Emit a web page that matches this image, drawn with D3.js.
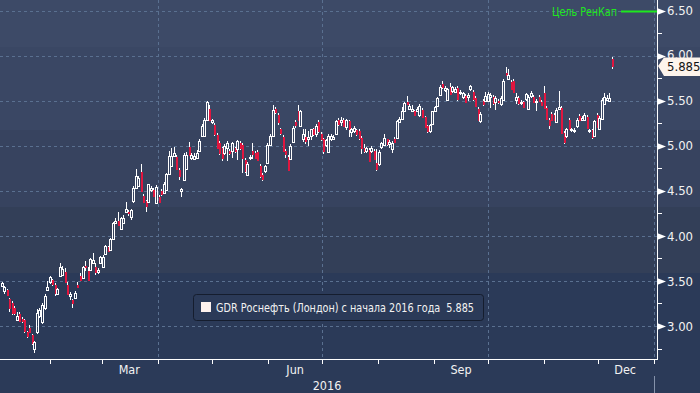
<!DOCTYPE html>
<html><head><meta charset="utf-8">
<script src="https://cdn.jsdelivr.net/npm/d3@7/dist/d3.min.js"></script>
<style>
html,body{margin:0;padding:0;background:#2b3a58;overflow:hidden}
svg{display:block}
text{font-family:"DejaVu Sans Condensed","Liberation Sans Narrow","DejaVu Sans",sans-serif}
</style>
</head><body>
<svg id="c" width="700" height="393"></svg>
<script>
// ---------- DATA ----------
const seriesName = "GDR Роснефть (Лондон) с начала 2016 года";
const lastPrice = 5.885;
const targetLabel = "Цель РенКап";
const targetValue = 6.5;
const yTicks = [3.0, 3.5, 4.0, 4.5, 5.0, 5.5, 6.0, 6.5];
const yMinorTicks = [2.75, 3.25, 3.75, 4.25, 4.75, 5.25, 5.75, 6.25];
const monthLabels = ["Mar", "Jun", "Sep", "Dec"];
const monthLabelIndex = [2, 5, 8, 11];
const yearLabel = "2016";

const opens = [
3.44,3.39,3.40,3.30,3.26,3.20,3.07,3.13,3.08,3.07,
2.93,2.98,2.90,2.74,2.93,3.11,3.04,3.20,3.40,3.49,
3.51,3.45,3.36,3.56,3.57,3.60,3.45,3.33,3.29,3.31,
3.46,3.55,3.53,3.67,3.61,3.62,3.70,3.66,3.60,3.70,
3.66,3.80,3.88,3.84,3.97,4.14,4.17,4.08,4.14,4.27,
4.27,4.21,4.39,4.53,4.55,4.71,4.44,4.39,4.38,4.51,
4.51,4.37,4.43,4.50,4.47,4.51,4.69,4.77,4.89,4.88,
4.73,4.50,4.62,4.74,4.99,4.86,4.85,4.86,4.94,5.11,
5.11,5.28,5.41,5.26,5.23,5.12,5.03,4.97,4.92,4.97,
4.94,4.94,4.97,4.96,5.03,5.01,4.84,4.68,4.86,4.94,
4.92,4.93,4.78,4.68,4.72,4.81,5.01,5.11,5.41,5.34,
5.18,5.10,4.94,4.88,4.85,5.04,5.26,5.38,5.22,5.08,
5.10,5.07,5.11,5.18,5.13,5.26,5.13,5.07,5.01,4.93,
5.07,5.08,5.13,5.29,5.26,5.29,5.21,5.27,5.15,5.16,
5.17,5.16,5.09,4.97,4.94,4.95,4.94,4.94,4.81,4.80,
4.99,5.01,5.07,5.02,4.96,5.07,5.09,5.26,5.30,5.38,
5.49,5.41,5.38,5.38,5.39,5.34,5.40,5.32,5.22,5.16,
5.24,5.38,5.44,5.56,5.68,5.62,5.51,5.65,5.61,5.60,
5.64,5.58,5.54,5.55,5.54,5.63,5.60,5.53,5.41,5.27,
5.50,5.50,5.50,5.54,5.54,5.48,5.50,5.46,5.51,5.81,
5.74,5.71,5.72,5.51,5.53,5.47,5.48,5.52,5.41,5.55,
5.54,5.48,5.54,5.49,5.59,5.42,5.29,5.35,5.34,5.26,
5.41,5.42,5.14,5.11,5.29,5.17,5.16,5.22,5.33,5.29,
5.29,5.32,5.16,5.17,5.11,5.34,5.18,5.30,5.46,5.51,5.50,5.96];

const highs = [
3.49,3.44,3.41,3.31,3.28,3.22,3.15,3.15,3.10,3.08,
2.95,3.01,2.91,2.83,3.19,3.20,3.25,3.35,3.50,3.56,
3.52,3.48,3.42,3.70,3.67,3.64,3.49,3.38,3.30,3.39,
3.49,3.59,3.67,3.72,3.65,3.75,3.81,3.70,3.64,3.78,
3.79,3.90,3.89,3.98,4.15,4.20,4.27,4.21,4.23,4.38,
4.29,4.30,4.55,4.74,4.66,4.80,4.46,4.40,4.58,4.55,
4.53,4.56,4.45,4.52,4.60,4.70,4.94,4.97,4.99,4.90,
4.75,4.53,4.92,4.93,5.04,4.92,4.92,4.95,5.07,5.24,
5.31,5.50,5.45,5.30,5.25,5.14,5.05,4.99,5.02,5.05,
4.96,5.04,4.99,5.06,5.05,5.03,4.86,4.82,4.90,5.03,
4.94,4.95,4.80,4.70,4.79,5.03,5.13,5.45,5.43,5.36,
5.20,5.12,4.96,4.90,5.02,5.22,5.28,5.45,5.40,5.18,
5.18,5.16,5.19,5.20,5.24,5.28,5.15,5.09,5.08,5.13,
5.13,5.12,5.29,5.31,5.32,5.31,5.30,5.29,5.20,5.22,
5.19,5.18,5.11,5.02,4.99,4.97,5.00,4.96,4.96,4.95,
5.04,5.13,5.08,5.06,5.05,5.10,5.28,5.32,5.43,5.48,
5.55,5.46,5.45,5.40,5.43,5.46,5.42,5.33,5.23,5.24,
5.39,5.44,5.54,5.67,5.72,5.66,5.64,5.70,5.66,5.65,
5.66,5.62,5.60,5.57,5.59,5.67,5.62,5.55,5.43,5.37,
5.52,5.60,5.60,5.58,5.56,5.55,5.52,5.55,5.74,5.87,
5.85,5.73,5.74,5.58,5.55,5.51,5.50,5.59,5.56,5.61,
5.56,5.52,5.56,5.51,5.66,5.44,5.31,5.37,5.36,5.42,
5.61,5.44,5.16,5.20,5.31,5.20,5.20,5.31,5.35,5.33,
5.36,5.34,5.18,5.18,5.29,5.36,5.33,5.53,5.58,5.56,5.58,5.98];

const lows = [
3.43,3.36,3.33,3.15,3.12,3.12,3.05,3.04,3.03,2.92,
2.87,2.92,2.79,2.70,2.91,3.09,3.02,3.18,3.39,3.47,
3.44,3.33,3.34,3.55,3.56,3.48,3.35,3.29,3.20,3.30,
3.42,3.50,3.52,3.61,3.50,3.61,3.69,3.57,3.58,3.69,
3.65,3.79,3.82,3.83,3.96,4.13,4.11,4.06,4.13,4.26,
4.22,4.18,4.37,4.52,4.54,4.49,4.37,4.26,4.36,4.49,
4.43,4.35,4.36,4.44,4.46,4.50,4.68,4.76,4.88,4.73,
4.62,4.43,4.61,4.73,4.89,4.84,4.84,4.85,4.93,5.10,
5.10,5.27,5.27,5.24,5.11,4.96,4.90,4.83,4.90,4.83,
4.90,4.86,4.92,4.84,4.95,4.70,4.70,4.66,4.84,4.85,
4.85,4.83,4.64,4.61,4.70,4.80,5.00,5.10,5.35,5.23,
5.12,4.93,4.86,4.72,4.84,5.03,5.20,5.27,5.21,5.04,
5.02,5.00,5.06,5.11,5.10,5.14,5.05,4.91,4.99,4.92,
5.05,5.06,5.12,5.22,5.22,5.21,5.17,5.10,5.10,5.14,
5.11,5.06,4.91,4.92,4.92,4.82,4.92,4.84,4.72,4.78,
4.96,5.00,5.00,4.98,4.92,5.03,5.08,5.25,5.29,5.37,
5.45,5.40,5.37,5.33,5.37,5.32,5.31,5.20,5.14,5.14,
5.23,5.37,5.43,5.55,5.63,5.60,5.50,5.56,5.59,5.58,
5.50,5.56,5.52,5.47,5.50,5.61,5.50,5.43,5.28,5.25,
5.44,5.48,5.48,5.42,5.45,5.40,5.46,5.44,5.50,5.77,
5.73,5.62,5.58,5.46,5.45,5.45,5.42,5.50,5.40,5.53,
5.47,5.39,5.48,5.44,5.41,5.29,5.18,5.28,5.27,5.25,
5.40,5.13,5.02,5.09,5.17,5.15,5.14,5.20,5.27,5.27,
5.27,5.19,5.14,5.08,5.10,5.20,5.17,5.29,5.45,5.50,5.49,5.85];

const closes = [
3.48,3.43,3.34,3.20,3.14,3.14,3.11,3.06,3.06,2.94,
2.89,2.93,2.81,2.82,3.14,3.18,3.23,3.33,3.43,3.54,
3.47,3.37,3.41,3.66,3.63,3.49,3.36,3.36,3.25,3.37,
3.43,3.51,3.66,3.66,3.51,3.74,3.73,3.60,3.62,3.77,
3.77,3.89,3.83,3.97,4.14,4.17,4.12,4.20,4.20,4.30,
4.25,4.29,4.53,4.66,4.64,4.50,4.38,4.33,4.57,4.53,
4.44,4.54,4.38,4.46,4.57,4.69,4.89,4.89,4.92,4.74,
4.66,4.52,4.90,4.90,4.90,4.90,4.89,4.92,5.05,5.22,
5.28,5.48,5.28,5.28,5.13,4.97,4.92,4.86,5.00,5.03,
4.92,5.03,4.94,5.05,4.97,4.86,4.72,4.80,4.88,4.91,
4.86,4.84,4.66,4.63,4.77,5.01,5.11,5.40,5.37,5.26,
5.14,4.94,4.91,4.73,5.00,5.20,5.23,5.28,5.38,5.13,
5.05,5.10,5.18,5.13,5.22,5.16,5.07,4.94,5.06,5.11,
5.11,5.10,5.27,5.24,5.29,5.22,5.28,5.18,5.18,5.20,
5.13,5.09,4.97,4.94,4.97,4.83,4.97,4.85,4.74,4.93,
5.03,5.09,5.02,5.04,5.03,5.04,5.27,5.30,5.38,5.47,
5.46,5.44,5.41,5.34,5.41,5.44,5.32,5.21,5.16,5.23,
5.38,5.43,5.53,5.65,5.65,5.64,5.63,5.57,5.65,5.63,
5.52,5.60,5.58,5.48,5.56,5.66,5.52,5.44,5.29,5.35,
5.46,5.55,5.57,5.56,5.47,5.53,5.48,5.53,5.72,5.78,
5.78,5.63,5.60,5.54,5.47,5.49,5.43,5.57,5.54,5.59,
5.49,5.50,5.50,5.45,5.42,5.30,5.23,5.29,5.29,5.40,
5.43,5.14,5.04,5.18,5.19,5.18,5.17,5.29,5.29,5.31,
5.34,5.20,5.17,5.10,5.27,5.21,5.31,5.51,5.54,5.53,5.53,5.885];

// ---------- LAYOUT ----------
const svg = d3.select("#c");
const W = 700, H = 393;
const axisX = 657, axisY = 359;
const bg = "#2b3a58";
const bands = [
  [0, 47, "#3d4a67"], [47, 130, "#3a4764"], [130, 207, "#37435f"],
  [207, 273, "#333f58"], [273, 393, bg]
];
svg.append("g").selectAll("rect").data(bands).join("rect")
  .attr("x", 0).attr("y", d => d[0]).attr("width", W).attr("height", d => d[1] - d[0])
  .attr("fill", d => d[2]);

const y = d3.scaleLinear().domain([3, 6.5]).range([326, 10.5]);
const xt = d3.scaleTime().domain([new Date(2016, 0, 1), new Date(2017, 0, 1)]).range([-6, 654]);
const xi = d3.scaleLinear().domain([0, opens.length - 1]).range([1.5, 612]);

const gridColor = "#5a7090";
svg.append("g").selectAll("line").data(yTicks).join("line")
  .attr("x1", 0).attr("x2", axisX)
  .attr("y1", d => Math.round(y(d)) + 0.5).attr("y2", d => Math.round(y(d)) + 0.5)
  .attr("stroke", gridColor).attr("stroke-dasharray", "3,3");
const quarters = [new Date(2016, 3, 1), new Date(2016, 6, 1), new Date(2016, 9, 1), new Date(2017, 0, 1)];
svg.append("g").selectAll("line").data(quarters).join("line")
  .attr("x1", d => Math.round(xt(d)) + 0.5).attr("x2", d => Math.round(xt(d)) + 0.5)
  .attr("y1", 0).attr("y2", axisY)
  .attr("stroke", gridColor).attr("stroke-dasharray", "3,3");

// ---------- CANDLES ----------
const red = "#e0163f";
const cg = svg.append("g").attr("shape-rendering", "crispEdges");
d3.range(opens.length).forEach(i => {
  const c = Math.round(xi(i));
  const o = opens[i], cl = closes[i];
  const top = Math.round(y(Math.max(o, cl)));
  let bot = Math.round(y(Math.min(o, cl)));
  if (bot - top < 1) bot = top + 1;
  const yh = Math.round(y(highs[i])), yl = Math.round(y(lows[i]));
  if (cl >= o) {
    cg.append("line").attr("x1", c + 0.5).attr("x2", c + 0.5).attr("y1", yh).attr("y2", top).attr("stroke", "#fff");
    cg.append("line").attr("x1", c + 0.5).attr("x2", c + 0.5).attr("y1", bot).attr("y2", yl).attr("stroke", "#fff");
    cg.append("rect").attr("x", c - 0.5).attr("y", top + 0.5).attr("width", 2).attr("height", bot - top)
      .attr("fill", "none").attr("stroke", "#fff");
  } else {
    cg.append("line").attr("x1", c + 0.5).attr("x2", c + 0.5).attr("y1", yh).attr("y2", yl).attr("stroke", "#fff");
    cg.append("rect").attr("x", c - 0.5).attr("y", top).attr("width", 2.5).attr("height", bot - top + 1)
      .attr("fill", red);
  }
});

// ---------- AXES ----------
const ag = svg.append("g").attr("shape-rendering", "crispEdges");
ag.append("line").attr("x1", axisX + 0.5).attr("x2", axisX + 0.5).attr("y1", 0).attr("y2", axisY + 1).attr("stroke", "#fff");
ag.append("line").attr("x1", 0).attr("x2", axisX + 1).attr("y1", axisY + 0.5).attr("y2", axisY + 0.5).attr("stroke", "#fff");
ag.selectAll("line.mn").data(yMinorTicks).join("line").attr("class", "mn")
  .attr("x1", axisX).attr("x2", axisX + 5)
  .attr("y1", d => Math.round(y(d)) + 0.5).attr("y2", d => Math.round(y(d)) + 0.5)
  .attr("stroke", "#fff");
svg.append("g").selectAll("path").data(yTicks).join("path")
  .attr("d", d => { const yy = Math.round(y(d)) + 0.5; return `M${axisX},${yy - 3.5}L${axisX + 9},${yy}L${axisX},${yy + 3.5}Z`; })
  .attr("fill", "#fff");
svg.append("g").selectAll("text").data(yTicks).join("text")
  .attr("x", 667).attr("y", d => y(d) - (d === 6.0 ? 1 : 0)).attr("dy", "0.36em")
  .attr("fill", "#f2f2f2").attr("font-size", 13)
  .text(d => d3.format(".2f")(d));

const months = d3.timeMonth.range(new Date(2016, 1, 1), new Date(2017, 0, 2));
ag.selectAll("line.mt").data(months).join("line").attr("class", "mt")
  .attr("x1", d => Math.round(xt(d)) + 0.5).attr("x2", d => Math.round(xt(d)) + 0.5)
  .attr("y1", axisY).attr("y2", axisY + 5).attr("stroke", "#fff");
ag.append("line").attr("x1", Math.round(xt(new Date(2017, 0, 1))) + 0.5).attr("x2", Math.round(xt(new Date(2017, 0, 1))) + 0.5)
  .attr("y1", 376).attr("y2", H).attr("stroke", "#8592aa");
svg.append("g").selectAll("text").data(monthLabels).join("text")
  .attr("x", (d, i) => xt(new Date(2016, monthLabelIndex[i], 16)))
  .attr("y", 374).attr("text-anchor", "middle")
  .attr("fill", "#f2f2f2").attr("font-size", 12.5).text(d => d);
svg.append("text")
  .attr("x", (Math.max(0, xt(new Date(2016, 0, 1))) + xt(new Date(2017, 0, 1))) / 2)
  .attr("y", 390).attr("text-anchor", "middle")
  .attr("fill", "#f2f2f2").attr("font-size", 12.5).text(yearLabel);

// ---------- TARGET ----------
const ty = Math.round(y(targetValue)) + 0.5;
svg.append("line").attr("x1", 621).attr("x2", axisX).attr("y1", ty).attr("y2", ty)
  .attr("stroke", "#1ee81e").attr("stroke-width", 2);
svg.append("text").attr("x", 552).attr("y", ty).attr("dy", "0.36em")
  .attr("textLength", 65).attr("lengthAdjust", "spacingAndGlyphs")
  .attr("fill", "#1ee81e").attr("font-size", 12).text(targetLabel);

// ---------- LAST PRICE TAG ----------
const ly = y(lastPrice);
svg.append("path")
  .attr("d", `M${axisX + 1},${ly}L${axisX + 7},${ly - 8.5}L${W},${ly - 8.5}L${W},${ly + 10}L${axisX + 7},${ly + 10}Z`)
  .attr("fill", "#fdf4ec");
svg.append("text").attr("x", 667).attr("y", ly).attr("dy", "0.42em")
  .attr("fill", "#111").attr("font-size", 13).text(d3.format(".3f")(lastPrice));

// ---------- LEGEND ----------
const lg = svg.append("g");
lg.append("rect").attr("x", 193.5).attr("y", 294.5).attr("width", 290).attr("height", 26).attr("rx", 3)
  .attr("fill", bg).attr("stroke", "#151d2e");
lg.append("rect").attr("x", 201).attr("y", 302).attr("width", 10).attr("height", 10).attr("fill", "#fdf2ee");
lg.append("text").attr("x", 216).attr("y", 312).attr("fill", "#f2f2f2").attr("font-size", 12)
  .attr("textLength", 258).attr("lengthAdjust", "spacingAndGlyphs")
  .style("white-space", "pre")
  .text(seriesName + "  " + d3.format(".3f")(lastPrice));
</script>
</body></html>
